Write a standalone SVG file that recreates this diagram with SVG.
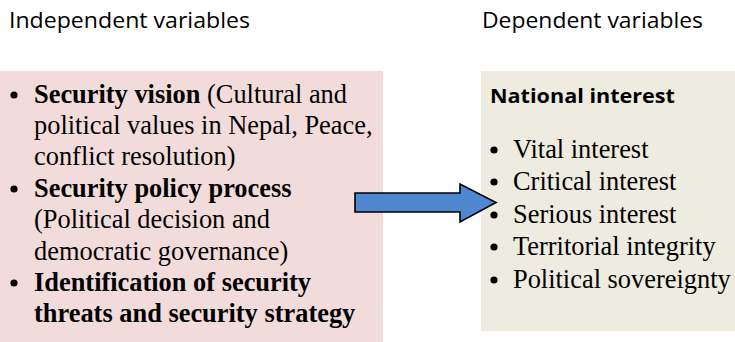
<svg xmlns="http://www.w3.org/2000/svg" width="735" height="342" viewBox="0 0 735 342">
<style>
.hdr{font-family:"Open Sans","Noto Sans",sans-serif;font-size:21px;fill:#000}
.ttl{font-family:"Open Sans","Noto Sans",sans-serif;font-size:20px;font-weight:bold;fill:#000}
.tm{font-family:"Liberation Serif","Times New Roman",serif;font-size:26.4px;fill:#000}
.b{font-weight:bold}
.dot{fill:#000}
</style>
<rect width="735" height="342" fill="#fff"/>
<text class="hdr" x="9" y="28" textLength="241" lengthAdjust="spacingAndGlyphs">Independent variables</text>
<text class="hdr" x="482" y="28" textLength="221" lengthAdjust="spacingAndGlyphs">Dependent variables</text>
<g id="independent">
<rect x="0" y="71" width="383" height="271" fill="#F2DCDB"/>
<circle class="dot" cx="14" cy="95" r="3.6"/>
<circle class="dot" cx="14" cy="189" r="3.6"/>
<circle class="dot" cx="14" cy="283" r="3.6"/>
<text class="tm" x="34" y="103"><tspan class="b">Security vision</tspan> (Cultural and</text>
<text class="tm" x="34" y="134">political values in Nepal, Peace,</text>
<text class="tm" x="34" y="165">conflict resolution)</text>
<text class="tm b" x="34" y="197">Security policy process</text>
<text class="tm" x="34" y="228">(Political decision and</text>
<text class="tm" x="34" y="260">democratic governance)</text>
<text class="tm b" x="34" y="291">Identification of security</text>
<text class="tm b" x="34" y="322">threats and security strategy</text>
</g>
<g id="dependent">
<rect x="481" y="71" width="254" height="260" fill="#EEECE1"/>
<text class="ttl" x="490" y="103" textLength="185" lengthAdjust="spacingAndGlyphs">National interest</text>
<circle class="dot" cx="494" cy="150" r="3.6"/>
<circle class="dot" cx="494" cy="182" r="3.6"/>
<circle class="dot" cx="494" cy="215" r="3.6"/>
<circle class="dot" cx="494" cy="247" r="3.6"/>
<circle class="dot" cx="494" cy="280" r="3.6"/>
<text class="tm" x="513" y="158">Vital interest</text>
<text class="tm" x="513" y="190">Critical interest</text>
<text class="tm" x="513" y="223">Serious interest</text>
<text class="tm" x="513" y="255">Territorial integrity</text>
<text class="tm" x="513" y="288">Political sovereignty</text>
</g>
<g id="connectors">
<path d="M355,193 H460 V184 L496,202.5 L460,222 V212 H355 Z" fill="#4F87D0" stroke="#000" stroke-width="1.6" stroke-linejoin="miter"/>
</g>
</svg>
